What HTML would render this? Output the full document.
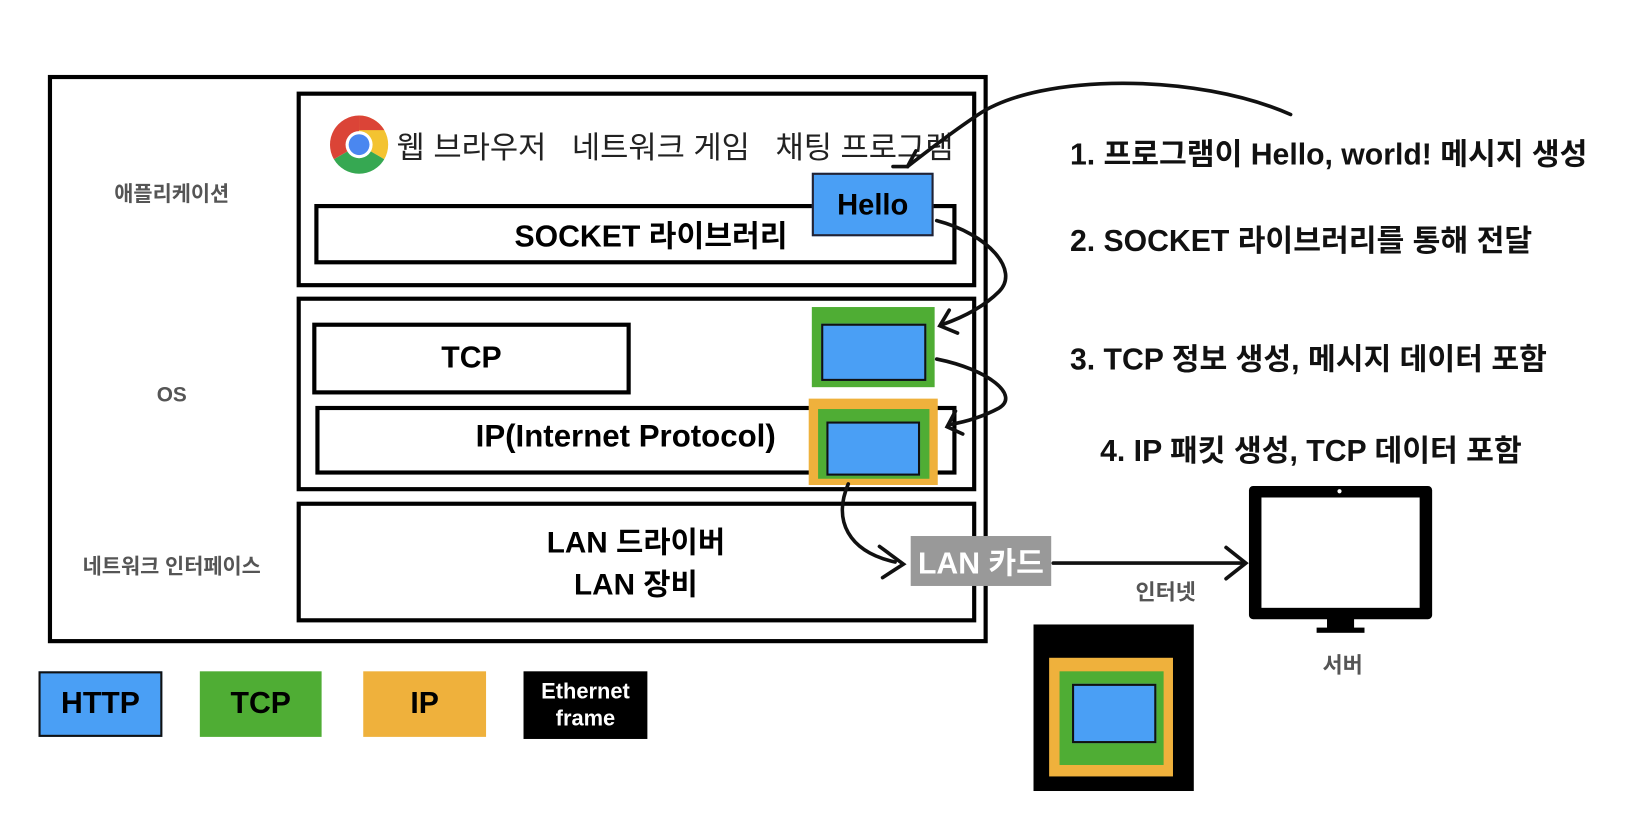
<!DOCTYPE html>
<html><head><meta charset="utf-8">
<style>
body{margin:0;width:1632px;height:816px;background:#fff;position:relative;overflow:hidden;font-family:"Liberation Sans","Noto Sans CJK KR",sans-serif;}
#w{position:absolute;left:0;top:0;width:1568px;height:784px;transform:scale(1.0408);transform-origin:0 0;}
.b{position:absolute;box-sizing:border-box;}
.t{position:absolute;white-space:nowrap;}
.lbl{color:#555;font-size:20px;font-weight:bold;transform:translateX(-50%);}
.r{font-size:29px;font-weight:bold;color:#111;}
.c{display:flex;align-items:center;justify-content:center;}
</style></head><body><div id="w">
<div class="b" style="left:46px;top:72px;width:903px;height:546px;border:4px solid #000"></div>
<div class="b" style="left:285px;top:88px;width:653px;height:188px;border:4px solid #000"></div>
<div class="b" style="left:285px;top:285px;width:653px;height:187px;border:4px solid #000"></div>
<div class="b" style="left:285px;top:482px;width:653px;height:116px;border:4px solid #000"></div>

<div class="t lbl" style="left:165px;top:170px">애플리케이션</div>
<div class="t lbl" style="left:165px;top:369px">OS</div>
<div class="t lbl" style="left:165px;top:528px">네트워크 인터페이스</div>

<svg class="b" style="left:316px;top:110px" width="58" height="58" viewBox="-29 -29 58 58">
<path d="M0 0 L0 -28 A28 28 0 0 1 24.2 14 Z" fill="#f3c331"/>
<path d="M0 0 L24.2 14 A28 28 0 0 1 -24.2 14 Z" fill="#36a852"/>
<path d="M0 0 L-24.2 14 A28 28 0 0 1 0 -28 Z" fill="#db4437"/>
<path d="M0 -28 A28 28 0 0 1 24.2 -14 L0 -14 Z" fill="#db4437"/>
<circle r="13" fill="#fff"/><circle r="10" fill="#4a87f0"/>
</svg>
<div class="t" style="left:381px;top:119px;font-size:29.5px;color:#222">웹 브라우저 &nbsp; 네트워크 게임 &nbsp; 채팅 프로그램</div>

<div class="b c" style="left:302px;top:196px;width:617px;height:58px;border:4px solid #000;font-size:29px;font-weight:bold"><span style="margin-left:30px">SOCKET 라이브러리</span></div>
<div class="b c" style="left:780px;top:166px;width:117px;height:61px;background:#4a9ff5;border:2px solid #223;font-size:28px;font-weight:bold">Hello</div>

<div class="b c" style="left:300px;top:310px;width:306px;height:69px;border:4px solid #000;font-size:29px;font-weight:bold">TCP</div>
<div class="b" style="left:780px;top:295px;width:118px;height:77px;background:#4fad34"></div>
<div class="b" style="left:789px;top:311px;width:101px;height:55px;background:#4a9ff5;border:2px solid #111"></div>

<div class="b" style="left:303px;top:390px;width:616px;height:66px;border:4px solid #000"></div>
<div class="t" style="left:457px;top:403px;font-size:30px;font-weight:bold">IP(Internet Protocol)</div>
<div class="b" style="left:777px;top:383px;width:124px;height:83px;background:#efb13c"></div>
<div class="b" style="left:786px;top:393px;width:107px;height:67px;background:#4fad34"></div>
<div class="b" style="left:794px;top:405px;width:90px;height:52px;background:#4a9ff5;border:2px solid #111"></div>

<div class="t" style="left:611px;top:502px;font-size:28.5px;font-weight:bold;text-align:center;transform:translateX(-50%);line-height:40px">LAN 드라이버<br>LAN 장비</div>

<div class="b c" style="left:875px;top:515px;width:135px;height:48px;background:#999;color:#fff;font-size:29px;font-weight:bold">LAN 카드</div>

<div class="t r" style="left:1028px;top:125px">1. 프로그램이 Hello, world! 메시지 생성</div>
<div class="t r" style="left:1028px;top:208px">2. SOCKET 라이브러리를 통해 전달</div>
<div class="t r" style="left:1028px;top:322px">3. TCP 정보 생성, 메시지 데이터 포함</div>
<div class="t r" style="left:1057px;top:410px">4. IP 패킷 생성, TCP 데이터 포함</div>

<div class="b" style="left:1200px;top:467px;width:176px;height:128px;background:#000;border-radius:4px"></div>
<div class="b" style="left:1212px;top:478px;width:152px;height:106px;background:#fff"></div>
<div class="b" style="left:1285px;top:470px;width:4px;height:4px;background:#fff;border-radius:2px"></div>
<div class="b" style="left:1275px;top:594px;width:26px;height:12px;background:#000"></div>
<div class="b" style="left:1265px;top:603px;width:46px;height:5px;background:#000"></div>
<div class="t lbl" style="left:1290px;top:623px;font-size:21px">서버</div>
<div class="t lbl" style="left:1120px;top:553px;font-size:21px">인터넷</div>

<div class="b" style="left:993px;top:600px;width:154px;height:160px;background:#000"></div>
<div class="b" style="left:1008px;top:632px;width:119px;height:114px;background:#efb13c"></div>
<div class="b" style="left:1018px;top:645px;width:100px;height:90px;background:#4fad34"></div>
<div class="b" style="left:1030px;top:657px;width:81px;height:57px;background:#4a9ff5;border:2px solid #111"></div>

<div class="b c" style="left:37px;top:645px;width:119px;height:63px;background:#4a9ff5;border:2px solid #111;font-size:29px;font-weight:bold">HTTP</div>
<div class="b c" style="left:192px;top:645px;width:117px;height:63px;background:#4fad34;font-size:29px;font-weight:bold">TCP</div>
<div class="b c" style="left:349px;top:645px;width:118px;height:63px;background:#efb13c;font-size:29px;font-weight:bold">IP</div>
<div class="b c" style="left:503px;top:645px;width:119px;height:65px;background:#000;color:#fff;font-size:21px;font-weight:bold;text-align:center;line-height:26px">Ethernet<br>frame</div>

<svg class="b" style="left:0;top:0" width="1568" height="784" fill="none" stroke="#111" stroke-width="3.5" stroke-linecap="round">
<path d="M1240 110 C1150 70 1000 70 940 110 C910 130 885 150 872 160"/>
<path d="M858 160 L872 160 L880 145"/>
<path d="M900 212 C950 225 980 260 960 280 C945 295 925 305 905 312"/>
<path d="M912 298 L903 313 L920 320"/>
<path d="M900 345 C950 355 980 380 960 392 C945 400 930 405 912 408"/>
<path d="M918 395 L910 410 L925 417"/>
<path d="M815 465 C800 500 815 530 860 540"/>
<path d="M845 525 L868 542 L848 555"/>
<path d="M1012 541 L1195 541"/>
<path d="M1178 526 L1197 541 L1178 556"/>
</svg>
</div></body></html>
